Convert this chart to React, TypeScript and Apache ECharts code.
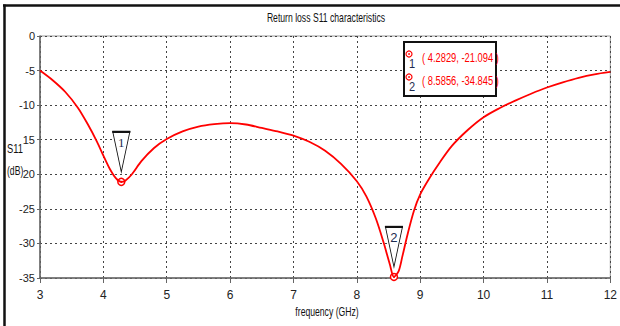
import React, { useEffect, useRef } from "react";
import * as echarts from "echarts";

const titleText = "Return loss S11 characteristics";
const xAxisName = "frequency (GHz)";
const yAxisName1 = "S11";
const yAxisName2 = "(dB)";

const freqGHz = [3.0, 3.2, 3.4, 3.6, 3.75, 3.9, 4.0, 4.1, 4.2, 4.2829, 4.35, 4.45, 4.6, 4.8, 5.0, 5.25, 5.5, 5.75, 6.0, 6.25, 6.5, 6.75, 7.0, 7.25, 7.5, 7.75, 8.0, 8.15, 8.3, 8.42, 8.52, 8.5856, 8.66, 8.72, 8.8, 8.9, 9.0, 9.15, 9.3, 9.5, 9.75, 10.0, 10.25, 10.5, 10.75, 11.0, 11.25, 11.5, 11.75, 12.0];
const s11dB = [-5.0, -6.4, -8.1, -10.4, -12.7, -15.3, -17.3, -19.2, -20.6, -21.094, -20.9, -20.0, -18.1, -16.2, -14.9, -13.8, -13.1, -12.75, -12.6, -12.8, -13.3, -13.8, -14.4, -15.3, -16.6, -18.5, -21.0, -23.2, -26.4, -29.8, -33.0, -34.845, -34.0, -31.8, -28.7, -25.3, -22.9, -20.5, -18.4, -15.9, -13.6, -11.75, -10.45, -9.35, -8.35, -7.45, -6.7, -6.05, -5.55, -5.2];

const xTickLabels = ["3", "4", "5", "6", "7", "8", "9", "10", "11", "12"];
const yTickLabels = ["0", "-5", "-10", "15", "20", "-25", "-30", "-35"];

const markerNames = ["1", "2"];
const markerX = [4.2829, 8.5856];
const markerY = [-21.094, -34.845];
const markerTexts = ["( 4.2829, -21.094 )", "( 8.5856, -34.845 )"];

const FONT = "'Liberation Sans', Arial, sans-serif";

export default function App() {
  const ref = useRef<HTMLDivElement>(null);
  useEffect(() => {
    if (!ref.current) return;
    const chart = echarts.init(ref.current, null, { renderer: "svg" });
    const data = freqGHz.map((f, i) => [f, s11dB[i]]);
    const triPath = "path://M0,0 L17,0 L8.5,40 Z";
    const markData: any[] = [];
    markerX.forEach((mx, i) => {
      markData.push({
        coord: [mx, markerY[i]],
        symbol: triPath,
        symbolSize: [17, 40],
        symbolOffset: [0, -30],
        itemStyle: { color: "#ffffff", borderColor: "#111", borderWidth: 1.2 },
        label: {
          show: true,
          formatter: markerNames[i],
          position: "inside",
          offset: [0, -9],
          color: "#1d2b4f",
          fontSize: 13,
          fontFamily: i === 0 ? "'Liberation Serif', serif" : FONT,
        },
      });
      markData.push({
        coord: [mx, markerY[i]],
        symbol: "rect",
        symbolSize: [18, 2.2],
        symbolOffset: [0, -50],
        itemStyle: { color: "#111" },
        label: { show: false },
      });
      markData.push({
        coord: [mx, markerY[i]],
        symbol: "circle",
        symbolSize: 7,
        itemStyle: { color: "#ffffff", borderColor: "#ff0000", borderWidth: 1.5 },
        label: { show: false },
      });
      markData.push({
        coord: [mx, markerY[i]],
        symbol: "circle",
        symbolSize: 2,
        itemStyle: { color: "#ff0000" },
        label: { show: false },
      });
    });

    const legendEls: any[] = [
      {
        type: "rect",
        shape: { x: 404, y: 42, width: 92, height: 54 },
        style: { fill: "#ffffff", stroke: "#111", lineWidth: 2 },
        z: 100,
      },
    ];
    markerTexts.forEach((t, i) => {
      const cy = 56 + i * 23;
      legendEls.push({
        type: "circle",
        shape: { cx: 409, cy: cy - 2, r: 3 },
        style: { fill: "#ffffff", stroke: "#ff0000", lineWidth: 1.2 },
        z: 101,
      });
      legendEls.push({
        type: "circle",
        shape: { cx: 409, cy: cy - 2, r: 0.9 },
        style: { fill: "#ff0000" },
        z: 102,
      });
      legendEls.push({
        type: "text",
        x: 412,
        y: cy + 8,
        scaleX: 0.85,
        style: { text: markerNames[i], fill: "#1d2b4f", font: `13px ${FONT}`, textAlign: "center", textVerticalAlign: "middle" },
        z: 101,
      });
      legendEls.push({
        type: "text",
        x: 422,
        y: cy + 1,
        scaleX: 0.72,
        style: { text: t, fill: "#ff0000", font: `13px ${FONT}`, textAlign: "left", textVerticalAlign: "middle" },
        z: 101,
      });
    });

    chart.setOption({
      animation: false,
      backgroundColor: "#ffffff",
      grid: { left: 40, right: 6, top: 36, bottom: 48, show: true, borderColor: "#999", borderWidth: 1 },
      xAxis: {
        type: "value",
        min: 3,
        max: 12,
        interval: 1,
        axisLine: { show: true, onZero: false, lineStyle: { color: "#666", width: 1.5 } },
        axisTick: { show: true, length: 5, lineStyle: { color: "#666" } },
        axisLabel: {
          color: "#222",
          fontSize: 12,
          fontFamily: FONT,
          margin: 11,
          formatter: (v: number) => xTickLabels[Math.round(v - 3)] ?? "",
        },
        splitLine: { show: true, lineStyle: { color: "#444", type: [2, 3], width: 1 } },
      },
      yAxis: {
        type: "value",
        min: -35,
        max: 0,
        interval: 5,
        axisLine: { show: true, onZero: false, lineStyle: { color: "#666", width: 1.5 } },
        axisTick: { show: true, length: 3, lineStyle: { color: "#666" } },
        axisLabel: {
          color: "#222",
          fontSize: 11,
          fontFamily: FONT,
          margin: 5,
          formatter: (v: number) => yTickLabels[Math.round(-v / 5)] ?? "",
        },
        splitLine: { show: true, lineStyle: { color: "#444", type: [2, 3], width: 1 } },
      },
      series: [
        {
          type: "line",
          data,
          smooth: 0.3,
          showSymbol: false,
          lineStyle: { color: "#ff0000", width: 1.8 },
          itemStyle: { color: "#ff0000" },
          markPoint: { data: markData, animation: false, silent: true },
          z: 5,
        },
      ],
      graphic: [
        { type: "line", shape: { x1: 3, y1: 5.5, x2: 620, y2: 5.5 }, style: { stroke: "#111", lineWidth: 2.5 } },
        { type: "line", shape: { x1: 4.5, y1: 4.5, x2: 4.5, y2: 326 }, style: { stroke: "#111", lineWidth: 2.5 } },
        {
          type: "text",
          x: 326,
          y: 18,
          scaleX: 0.72,
          style: { text: titleText, fill: "#111", font: `12px ${FONT}`, textAlign: "center", textVerticalAlign: "middle" },
        },
        {
          type: "text",
          x: 327,
          y: 312,
          scaleX: 0.72,
          style: { text: xAxisName, fill: "#111", font: `12px ${FONT}`, textAlign: "center", textVerticalAlign: "middle" },
        },
        {
          type: "text",
          x: 7,
          y: 149,
          scaleX: 0.78,
          style: { text: yAxisName1, fill: "#111", font: `12px ${FONT}`, textAlign: "left", textVerticalAlign: "middle" },
        },
        {
          type: "text",
          x: 7,
          y: 171,
          scaleX: 0.72,
          style: { text: yAxisName2, fill: "#111", font: `12px ${FONT}`, textAlign: "left", textVerticalAlign: "middle" },
        },
        ...legendEls,
      ],
    });
    return () => chart.dispose();
  }, []);
  return <div ref={ref} style={{ width: 620, height: 326, position: "fixed", left: 0, top: 0 }} />;
}
